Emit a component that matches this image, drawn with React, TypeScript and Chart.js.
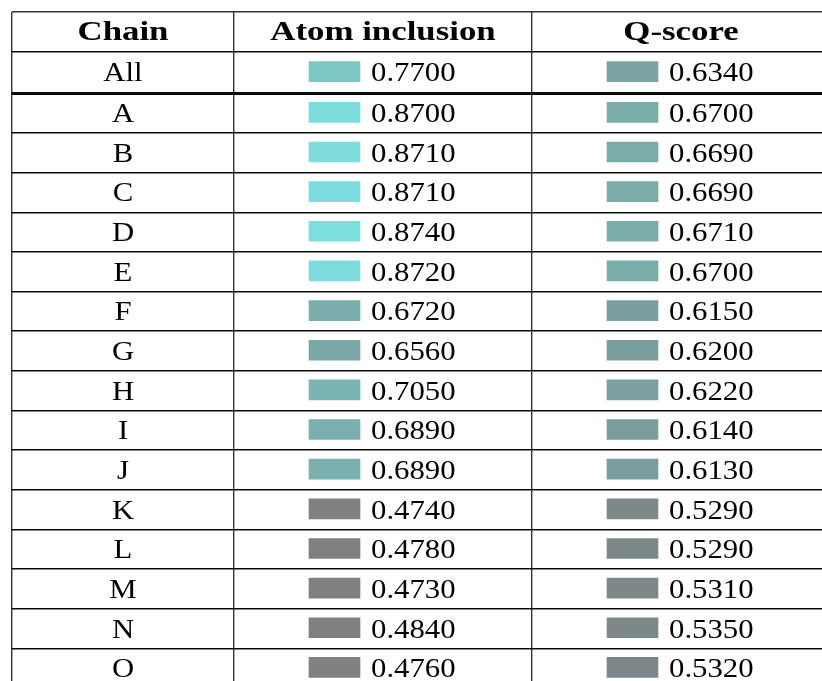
import React, { useEffect, useRef } from "react";
import { Chart, registerables } from "chart.js";

Chart.register(...registerables);

// ---- data ----
const headers = ["Chain", "Atom inclusion", "Q-score"];
const chains = ["All", "A", "B", "C", "D", "E", "F", "G", "H", "I", "J", "K", "L", "M", "N", "O"];
const atomInclusion = [0.77, 0.87, 0.871, 0.871, 0.874, 0.872, 0.672, 0.656, 0.705, 0.689, 0.689, 0.474, 0.478, 0.473, 0.484, 0.476];
const qScore = [0.634, 0.67, 0.669, 0.669, 0.671, 0.67, 0.615, 0.62, 0.622, 0.614, 0.613, 0.529, 0.529, 0.531, 0.535, 0.532];

// colour map stops (value -> rgb)
const cmapValues = [0.47, 0.53, 0.615, 0.67, 0.77, 0.875];
const cmapColors = [
  [128, 127, 127],
  [125, 136, 136],
  [122, 158, 157],
  [122, 172, 170],
  [124, 198, 196],
  [125, 222, 222],
];

function valueColor(v: number): string {
  if (v <= cmapValues[0]) return `rgb(${cmapColors[0].join(",")})`;
  for (let i = 1; i < cmapValues.length; i++) {
    if (v <= cmapValues[i]) {
      const t = (v - cmapValues[i - 1]) / (cmapValues[i] - cmapValues[i - 1]);
      const a = cmapColors[i - 1];
      const b = cmapColors[i];
      const c = a.map((ai, k) => Math.round(ai + (b[k] - ai) * t));
      return `rgb(${c.join(",")})`;
    }
  }
  return `rgb(${cmapColors[cmapColors.length - 1].join(",")})`;
}

// ---- layout (in axis units: x = px from table left, y = rows) ----
const ROW_PX = 39.65;
const TABLE_LEFT = 12;
const TABLE_TOP = 12;
const CANVAS_W = 822;
const CANVAS_H = 681;
const colEdges = [0, 222, 520, 818];
const RULE_SHIFT = 0.05;
const nRows = chains.length + 1;
const rowEdges = Array.from({ length: nRows + 1 }, (_, k) => k + (k >= 2 ? RULE_SHIFT : 0));
const rowCenter = (r: number) => (rowEdges[r] + rowEdges[r + 1]) / 2;
const colCenter = (c: number) => (colEdges[c] + colEdges[c + 1]) / 2;
const SW_L = -74;
const SW_R = -23;
const TXT_L = -12;

const X_MAX = CANVAS_W - TABLE_LEFT;
const Y_MAX = (CANVAS_H - TABLE_TOP) / ROW_PX;

const BODY_FONT = '27px "Liberation Serif"';
const BODY_SX = 1.14;
const HEAD_FONT = 'bold 27px "Liberation Serif"';
const HEAD_SX = 1.29;

function drawScaled(ctx: CanvasRenderingContext2D, text: string, x: number, y: number, font: string, sx: number, align: CanvasTextAlign) {
  ctx.save();
  ctx.font = font;
  ctx.fillStyle = "#000";
  ctx.textAlign = align;
  ctx.textBaseline = "alphabetic";
  ctx.translate(x, y);
  ctx.scale(sx, 1);
  ctx.fillText(text, 0, 0);
  ctx.restore();
}

const textPlugin = {
  id: "tableText",
  afterDatasetsDraw(chart: any) {
    const { ctx } = chart;
    const xs = chart.scales.x;
    const ys = chart.scales.y;
    headers.forEach((h, c) => {
      const px = xs.getPixelForValue(colCenter(c));
      const py = ys.getPixelForValue(rowCenter(0)) + 8.5;
      drawScaled(ctx, h, px, py, HEAD_FONT, HEAD_SX, "center");
    });
    chains.forEach((name, i) => {
      const r = i + 1;
      const py = ys.getPixelForValue(rowCenter(r)) + 9;
      drawScaled(ctx, name, xs.getPixelForValue(colCenter(0)), py, BODY_FONT, BODY_SX, "center");
      drawScaled(ctx, atomInclusion[i].toFixed(4), xs.getPixelForValue(colCenter(1) + TXT_L), py, BODY_FONT, BODY_SX, "left");
      drawScaled(ctx, qScore[i].toFixed(4), xs.getPixelForValue(colCenter(2) + TXT_L), py, BODY_FONT, BODY_SX, "left");
    });
  },
};

export default function App() {
  const ref = useRef<HTMLCanvasElement>(null);
  useEffect(() => {
    if (!ref.current) return;
    const chart = new Chart(ref.current, {
      type: "bar",
      data: {
        datasets: [
          {
            label: headers[1],
            data: atomInclusion.map((_, i) => ({ x: [colCenter(1) + SW_L, colCenter(1) + SW_R], y: rowCenter(i + 1) - 0.02 })) as any,
            backgroundColor: atomInclusion.map(valueColor),
            borderWidth: 0,
            barThickness: 20,
          },
          {
            label: headers[2],
            data: qScore.map((_, i) => ({ x: [colCenter(2) + SW_L, colCenter(2) + SW_R], y: rowCenter(i + 1) - 0.02 })) as any,
            backgroundColor: qScore.map(valueColor),
            borderWidth: 0,
            barThickness: 20,
          },
        ],
      },
      options: {
        animation: false,
        responsive: true,
        maintainAspectRatio: false,
        devicePixelRatio: 1,
        indexAxis: "y",
        grouped: false,
        layout: { padding: { left: TABLE_LEFT, top: TABLE_TOP, right: 0, bottom: 0 } },
        plugins: { legend: { display: false }, tooltip: { enabled: false }, title: { display: false } },
        scales: {
          x: {
            type: "linear",
            min: 0,
            max: X_MAX,
            offset: false,
            ticks: { display: false },
            border: { display: false },
            grid: { drawTicks: false, offset: false, color: "#333", lineWidth: 1.4 },
            afterBuildTicks: (scale: any) => {
              scale.ticks = colEdges.filter((v) => v <= X_MAX).map((v) => ({ value: v }));
            },
          },
          y: {
            type: "linear",
            reverse: true,
            min: 0,
            max: Y_MAX,
            offset: false,
            ticks: { display: false },
            border: { display: false },
            grid: {
              drawTicks: false,
              offset: false,
              color: (c: any) => (c.tick && c.tick.value === 0 ? "#333" : "#0a0a0a"),
              lineWidth: (c: any) => (c.tick && Math.abs(c.tick.value - rowEdges[2]) < 1e-6 ? 3 : 1.4),
            },
            afterBuildTicks: (scale: any) => {
              scale.ticks = rowEdges.filter((v) => v <= Y_MAX).map((v) => ({ value: v }));
            },
          },
        },
      } as any,
      plugins: [textPlugin],
    });
    return () => chart.destroy();
  }, []);
  return (
    <div style={{ position: "absolute", left: 0, top: 0, width: CANVAS_W, height: CANVAS_H, background: "#fff" }}>
      <canvas ref={ref} />
    </div>
  );
}
